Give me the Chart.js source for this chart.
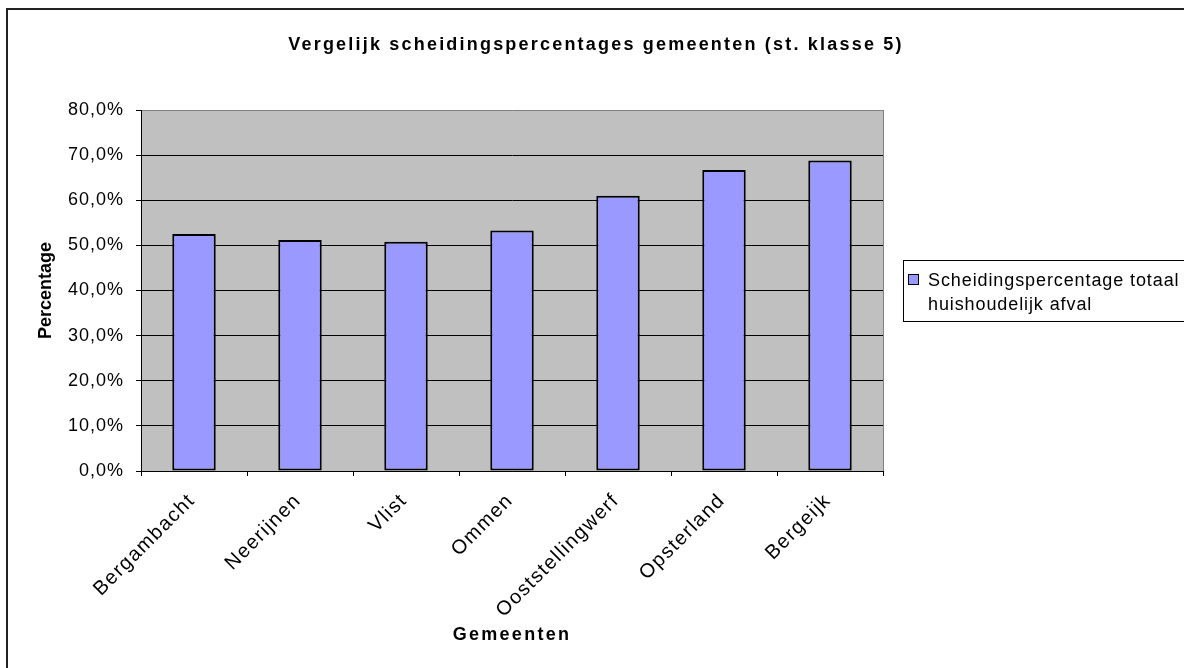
<!DOCTYPE html>
<html>
<head>
<meta charset="utf-8">
<script src="https://cdn.jsdelivr.net/npm/chart.js@4.4.1/dist/chart.umd.min.js"></script>
<style>
  body { margin: 0; background: #fff; }
  canvas { display: block; }
</style>
</head>
<body>
<canvas id="myChart" width="1184" height="668"></canvas>
<script>
const gemeenten = ["Bergambacht", "Neerijnen", "Vlist", "Ommen", "Ooststellingwerf", "Opsterland", "Bergeijk"];
const scheiding = [52.5, 51.2, 50.8, 53.3, 61.0, 66.7, 68.8];
const legendLines = ["Scheidingspercentage totaal", "huishoudelijk afval"];
const chartTitle = "Vergelijk scheidingspercentages gemeenten (st. klasse 5)";

const FONT = "'Liberation Sans', Arial, sans-serif";

// grey plot area, outer frame, title and boxed legend (excel look)
const excelLook = {
  id: "excel_look",
  beforeDraw: (chart) => {
    const { ctx, chartArea } = chart;
    ctx.save();
    ctx.fillStyle = "#C0C0C0";
    ctx.fillRect(chartArea.left, chartArea.top, chartArea.right - chartArea.left, chartArea.bottom - chartArea.top);
    ctx.strokeStyle = "#808080";
    ctx.lineWidth = 1;
    ctx.beginPath();
    ctx.moveTo(chartArea.right + 0.5, chartArea.top);
    ctx.lineTo(chartArea.right + 0.5, chartArea.bottom);
    ctx.stroke();

    ctx.strokeStyle = "#222";
    ctx.lineWidth = 2;
    ctx.strokeRect(7, 9, 1300, 800);

    ctx.fillStyle = "#000";
    ctx.font = "bold 18px " + FONT;
    ctx.letterSpacing = "2.2px";
    ctx.textAlign = "center";
    ctx.textBaseline = "middle";
    ctx.fillText(chartTitle, 596, 45);
    ctx.restore();
  },
  afterDraw: (chart) => {
    const { ctx } = chart;
    const ds = chart.data.datasets[0];
    ctx.save();
    ctx.fillStyle = "#fff";
    ctx.fillRect(903.5, 260.5, 300, 61);
    ctx.strokeStyle = "#000";
    ctx.lineWidth = 1;
    ctx.strokeRect(903.5, 260.5, 300, 61);
    ctx.fillStyle = ds.backgroundColor;
    ctx.fillRect(908.5, 274.5, 10, 10);
    ctx.strokeRect(908.5, 274.5, 10, 10);
    ctx.fillStyle = "#000";
    ctx.font = "18px " + FONT;
    ctx.letterSpacing = "0.9px";
    ctx.textAlign = "left";
    ctx.textBaseline = "alphabetic";
    legendLines.forEach((line, i) => ctx.fillText(line, 928, 286 + i * 24));
    ctx.restore();
  },
};

const config = {
  type: "bar",
  data: {
    labels: gemeenten,
    datasets: [
      {
        label: legendLines.join(" "),
        data: scheiding,
        backgroundColor: "#9999FF",
        borderColor: "#000",
        borderWidth: 2,
        borderSkipped: false,
        barPercentage: 0.41,
        categoryPercentage: 1,
      },
    ],
  },
  plugins: [excelLook],
  options: {
    responsive: false,
    animation: false,
    layout: { padding: { left: 0, top: 110, right: 301, bottom: 0 } },
    plugins: {
      legend: { display: false },
      title: { display: false },
      tooltip: { enabled: false },
    },
    scales: {
      x: {
        afterFit: (s) => { s.height = 668 - 471; },
        grid: { offset: true, drawOnChartArea: false, drawTicks: true, tickLength: 5, tickColor: "#000" },
        border: { color: "#000", width: 1 },
        ticks: {
          autoSkip: false,
          minRotation: 45,
          maxRotation: 45,
          padding: 13,
          labelOffset: -2,
          color: "#000",
          font: { family: FONT, size: 20 },
        },
        title: {
          display: true,
          text: "Gemeenten",
          color: "#000",
          font: { family: FONT, size: 18, weight: "bold" },
          padding: { top: 0, bottom: 22 },
        },
      },
      y: {
        min: 0,
        max: 80,
        afterFit: (s) => { s.width = 141; },
        grid: {
          color: (c) => (c.tick && c.tick.value === 80 ? "#808080" : "#000"),
          tickColor: "#000",
          tickLength: 5,
        },
        border: { color: "#000", width: 1 },
        ticks: {
          stepSize: 10,
          padding: 12,
          color: "#000",
          font: { family: FONT, size: 18 },
          callback: (v) => v.toFixed(1).replace(".", ",") + "%",
        },
        title: {
          display: true,
          text: "Percentage",
          color: "#000",
          font: { family: FONT, size: 18, weight: "bold" },
          padding: { top: 35, bottom: 0 },
        },
      },
    },
  },
};

var myChart = new Chart(document.getElementById("myChart"), config);

// excel spaces its letters a bit wider than the canvas does
var spacing = { labels: { x: "1.4px", y: "1px" }, title: { x: "2.3px", y: "0px" } };
["x", "y"].forEach((id) => {
  const scale = myChart.scales[id];
  const drawLabels = scale.drawLabels.bind(scale);
  const drawTitle = scale.drawTitle.bind(scale);
  scale.drawLabels = (area) => {
    myChart.ctx.save();
    myChart.ctx.letterSpacing = spacing.labels[id];
    drawLabels(area);
    myChart.ctx.restore();
  };
  scale.drawTitle = () => {
    myChart.ctx.save();
    myChart.ctx.letterSpacing = spacing.title[id];
    drawTitle();
    myChart.ctx.restore();
  };
});
myChart.draw();
</script>
</body>
</html>
